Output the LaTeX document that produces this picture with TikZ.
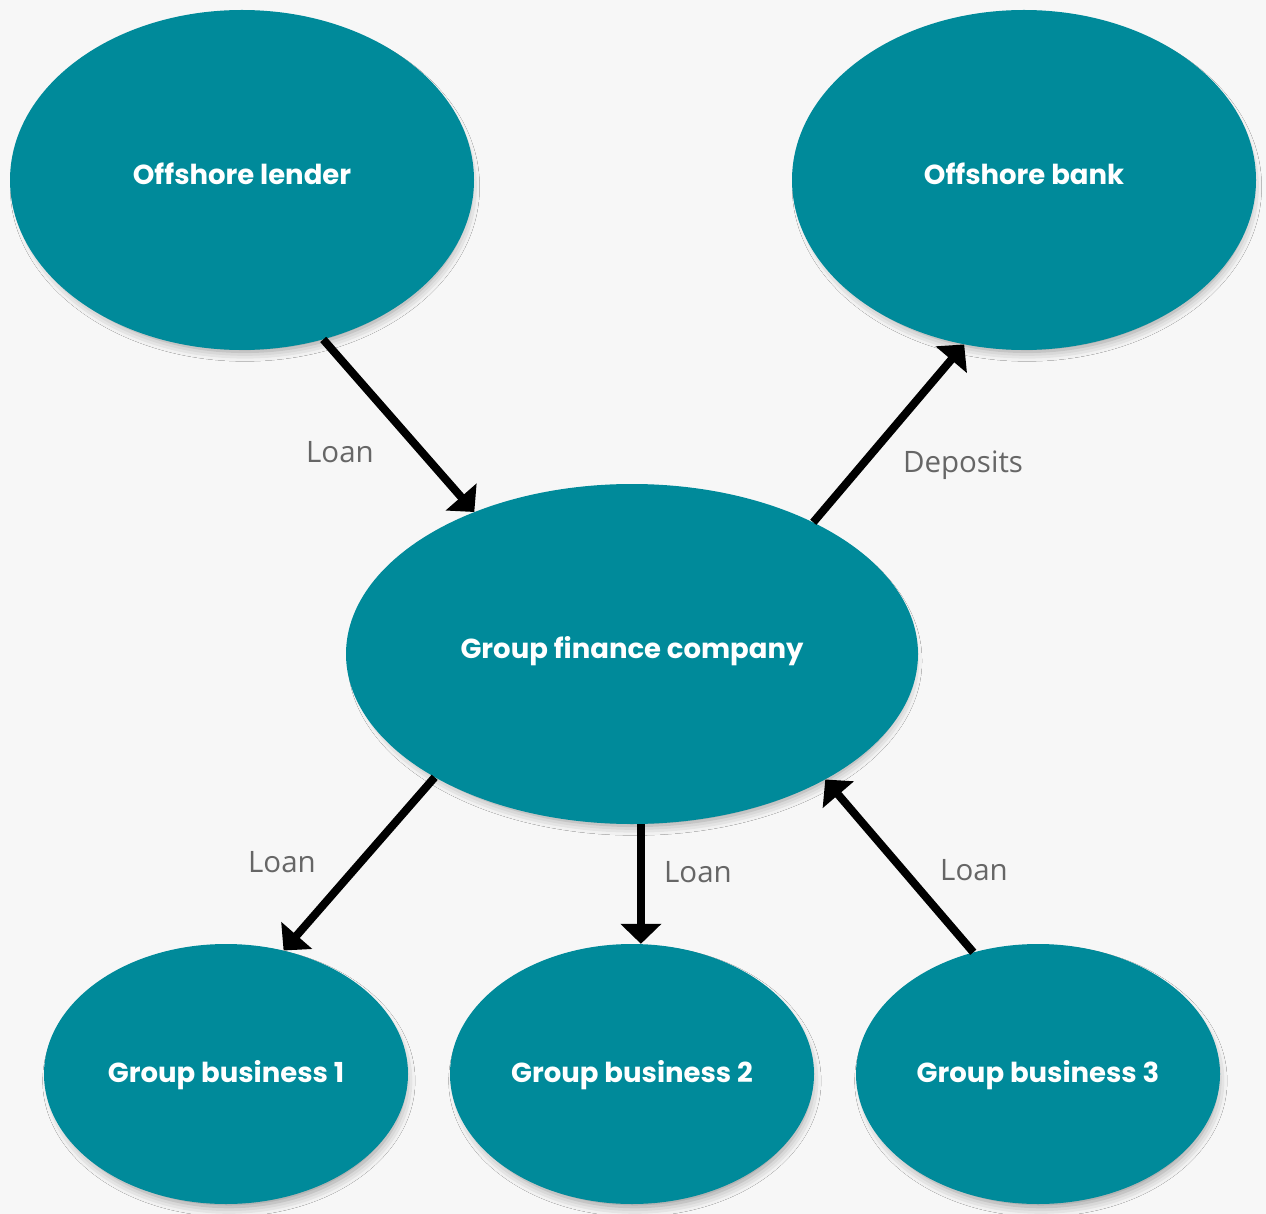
\documentclass[tikz,border=0pt]{standalone}
\usepackage{fontspec}
\setmainfont{Open Sans}
\newfontfamily\popfont{Poppins}
\usetikzlibrary{arrows.meta,shadows.blur,shapes.geometric,calc}
\definecolor{teal1}{HTML}{008A9A}
\definecolor{bgc}{HTML}{F7F7F7}
\definecolor{lblc}{HTML}{666666}
\tikzset{
  blob/.style={ellipse, fill=teal1, inner sep=0pt,
    blur shadow={shadow xshift=3pt, shadow yshift=-7pt, shadow scale=0.97,
      shadow blur radius=10pt, shadow opacity=40}},
  bigblob/.style={blob, minimum width=464pt, minimum height=340pt},
  smallblob/.style={blob, minimum width=364pt, minimum height=260pt},
  blobtext/.style={text=white, inner sep=0pt, text height=19.5pt, text depth=0pt,
    font=\popfont\bfseries\fontsize{27.5}{32}\selectfont},
  flow/.style={line width=8pt, draw=black, -{Triangle[length=20pt,width=40pt]}},
  lbl/.style={text=lblc, font=\fontsize{29.5}{34}\selectfont, inner sep=0pt,
    text height=21pt, text depth=0pt}
}
\begin{document}
\begin{tikzpicture}[x=1pt,y=-1pt]
\path[fill=bgc, use as bounding box] (0,0) rectangle (1266,1214);
\node[bigblob] (lender) at (242,180) {};
\node[bigblob] (bank) at (1024,180) {};
\node[blob, minimum width=572pt, minimum height=340pt] (gfc) at (632,654) {};
\node[smallblob] (gb1) at (226,1074) {};
\node[smallblob] (gb2) at (632,1074) {};
\node[smallblob] (gb3) at (1038,1074) {};

\node[blobtext] (tlender) at ($(lender.center)+(0,-5)$) {Offshore lender};
\node[blobtext] (tbank) at ($(bank.center)+(0,-5)$) {Offshore bank};
\node[blobtext] (tgfc) at ($(gfc.center)+(0,-5)$) {Group finance company};
\node[blobtext] (tgb1) at ($(gb1.center)+(0,-1)$) {Group business 1};
\node[blobtext] (tgb2) at ($(gb2.center)+(0,-1)$) {Group business 2};
\node[blobtext] (tgb3) at ($(gb3.center)+(0,-1)$) {Group business 3};

\draw[flow] (lender.-63.1) -- (gfc.138.5);
\draw[flow] (gfc.36.7) -- (bank.-110.2);
\draw[flow] (gfc.-148.5) -- (gb1.65);
\draw[flow] (gfc.-87.3) -- (gfc.-87.3 |- gb2.north);
\draw[flow] (gb3.118.9) -- (gfc.-33.6);

\node[lbl] (l1) at (340,452) {Loan};
\node[lbl] (l2) at (963,462) {Deposits};
\node[lbl] (l3) at (282,862) {Loan};
\node[lbl] (l4) at (698,872) {Loan};
\node[lbl] (l5) at (974,870) {Loan};
\end{tikzpicture}
\end{document}
